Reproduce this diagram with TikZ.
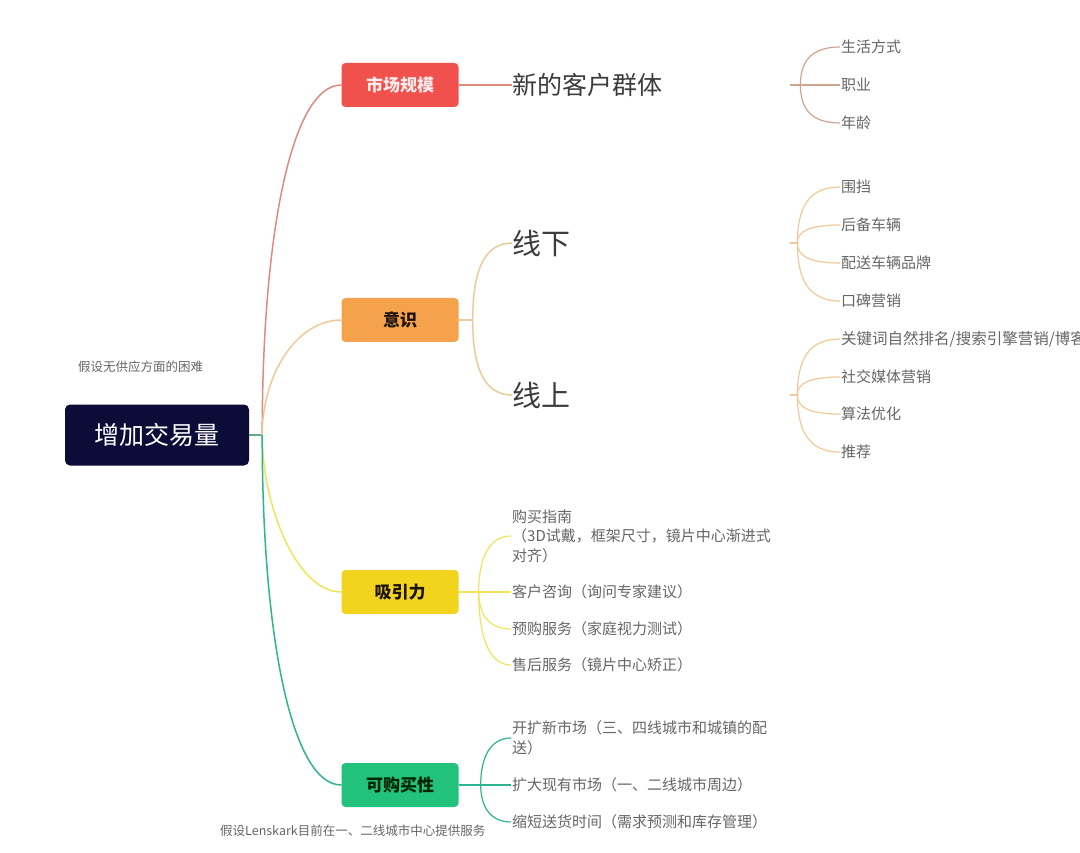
\documentclass[tikz,border=0pt]{standalone}
\usepackage{fontspec}
\newfontfamily\cjk{Noto Sans CJK SC}
\usetikzlibrary{calc}
\definecolor{cRoot}{HTML}{0C0C38}
\definecolor{cRed}{HTML}{F0514C}
\definecolor{cOrange}{HTML}{F4A24C}
\definecolor{cYellow}{HTML}{F2D41E}
\definecolor{cGreen}{HTML}{22C17C}
\definecolor{lRed}{HTML}{E08A7C}
\definecolor{lRedL}{HTML}{CFA592}
\definecolor{lOrange}{HTML}{F3C898}
\definecolor{lOrangeL}{HTML}{EBCB9C}
\definecolor{lYellow}{HTML}{F0E55A}
\definecolor{lGreen}{HTML}{2DB592}
\definecolor{tBig}{HTML}{3C3C3C}
\definecolor{tLeaf}{HTML}{666666}
\tikzset{
  rootbox/.style={fill=cRoot, text=white, rounded corners=5pt, minimum width=184pt, minimum height=61pt, inner sep=0pt, font=\cjk\fontsize{25}{28}\selectfont},
  mainbox/.style={rounded corners=4pt, minimum width=117pt, minimum height=44pt, inner sep=0pt, font=\cjk\bfseries\fontsize{17}{20}\selectfont},
  bigtext/.style={anchor=west, inner sep=0pt, text width=278pt, align=left, text=tBig, font=\cjk\fontsize{25}{28}\selectfont},
  leaf/.style={anchor=west, inner sep=1pt, align=left, text=tLeaf, font=\cjk\fontsize{15}{19.5}\selectfont},
  notetext/.style={anchor=west, inner sep=0pt, text=tLeaf, font=\cjk\fontsize{12.5}{15}\selectfont},
  conn/.style={line width=1.5pt},
  thin/.style={line width=1.2pt},
  branch/.style={to path={.. controls ($(\tikztostart)!0.6!(\tikztostart|-\tikztotarget)$) and ($(\tikztostart|-\tikztotarget)+(10,0)$) .. (\tikztotarget)}}
}
\begin{document}
\begin{tikzpicture}[x=1pt,y=-1pt]
\useasboundingbox[fill=white] (0,0) rectangle (1080,853);

% root and notes
\node[rootbox] (root) at (157,435) {增加交易量};
\node[notetext] (n1) at (78,367) {假设无供应方面的困难};
\node[notetext] (n2) at (220,831) {假设Lenskark目前在一、二线城市中心提供服务};

% main boxes
\node[mainbox, fill=cRed, text=white!92!red] (m1) at (400,85) {市场规模};
\node[mainbox, fill=cOrange, text=black!85!brown] (m2) at (400,320) {意识};
\node[mainbox, fill=cYellow, text=black!85!brown] (m3) at (400,592) {吸引力};
\node[mainbox, fill=cGreen, text=black!85!green] (m4) at (400,785) {可购买性};

% root connectors
\coordinate (r0) at ($(root.east)+(13,0)$);
\draw[conn, lGreen!70!lRed] (root.east) -- (r0);
\draw[conn, lRed] (r0) .. controls ($(r0)+(0,-200)$) and ($(m1.west)+(-50,0)$) .. (m1.west);
\draw[conn, lOrange] (r0) .. controls ($(r0)+(0,-60)$) and ($(m2.west)+(-45,0)$) .. (m2.west);
\draw[conn, lYellow] (r0) .. controls ($(r0)+(0,70)$) and ($(m3.west)+(-45,0)$) .. (m3.west);
\draw[conn, lGreen] (r0) .. controls ($(r0)+(0,200)$) and ($(m4.west)+(-50,0)$) .. (m4.west);

% ---- market size
\node[bigtext] (a1) at (512,85) {新的客户群体};
\draw[conn, lRed] (m1.east) -- (a1.west);
\node[leaf] (a11) at (840,47) {生活方式};
\node[leaf] (a12) at (840,85) {职业};
\node[leaf] (a13) at (840,123) {年龄};
\coordinate (ba1) at ($(a1.east)+(10,0)$);
\draw[thin, lRedL] (a1.east) -- (ba1);
\foreach \c in {a11,a12,a13} \draw[thin, lRedL] (ba1) to[branch] (\c.west);

% ---- awareness
\coordinate (bm2) at ($(m2.east)+(14,0)$);
\node[bigtext, font=\cjk\fontsize{29}{32}\selectfont] (b1) at (512,243) {线下};
\node[bigtext, font=\cjk\fontsize{29}{32}\selectfont] (b2) at (512,395) {线上};
\draw[conn, lOrange] (m2.east) -- (bm2);
\draw[conn, lOrangeL] (bm2) to[branch] (b1.west);
\draw[conn, lOrangeL] (bm2) to[branch] (b2.west);

\node[leaf] (b11) at (840,187) {围挡};
\node[leaf] (b12) at (840,225) {后备车辆};
\node[leaf] (b13) at (840,263) {配送车辆品牌};
\node[leaf] (b14) at (840,301) {口碑营销};
\coordinate (bb1) at ($(b1.east)+(7,0)$);
\draw[thin, lOrange] (b1.east) -- (bb1);
\foreach \c in {b11,b12,b13,b14} \draw[thin, lOrange] (bb1) to[branch] (\c.west);

\node[leaf, font=\cjk\fontsize{15.5}{19.5}\selectfont] (b21) at (840,339) {关键词自然排名/搜索引擎营销/博客};
\node[leaf] (b22) at (840,377) {社交媒体营销};
\node[leaf] (b23) at (840,414) {算法优化};
\node[leaf] (b24) at (840,452) {推荐};
\coordinate (bb2) at ($(b2.east)+(7,0)$);
\draw[thin, lOrange] (b2.east) -- (bb2);
\foreach \c in {b21,b22,b23,b24} \draw[thin, lOrange] (bb2) to[branch] (\c.west);

% ---- attraction
\node[leaf] (c1) at (511,536) {购买指南\\（3D试戴，框架尺寸，镜片中心渐进式\\对齐）};
\node[leaf] (c2) at (511,592) {客户咨询（询问专家建议）};
\node[leaf] (c3) at (511,629) {预购服务（家庭视力测试）};
\node[leaf] (c4) at (511,665) {售后服务（镜片中心矫正）};
\coordinate (bm3) at ($(m3.east)+(20,0)$);
\draw[thin, lYellow] (m3.east) -- (bm3);
\foreach \c in {c1,c2,c3,c4} \draw[thin, lYellow] (bm3) to[branch] (\c.west);

% ---- affordability
\node[leaf] (d1) at (511,738) {开扩新市场（三、四线城市和城镇的配\\送）};
\node[leaf] (d2) at (511,785) {扩大现有市场（一、二线城市周边）};
\node[leaf] (d3) at (511,822) {缩短送货时间（需求预测和库存管理）};
\coordinate (bm4) at ($(m4.east)+(22,0)$);
\draw[thin, lGreen] (m4.east) -- (bm4);
\foreach \c in {d1,d2,d3} \draw[thin, lGreen] (bm4) to[branch] (\c.west);
\end{tikzpicture}
\end{document}
